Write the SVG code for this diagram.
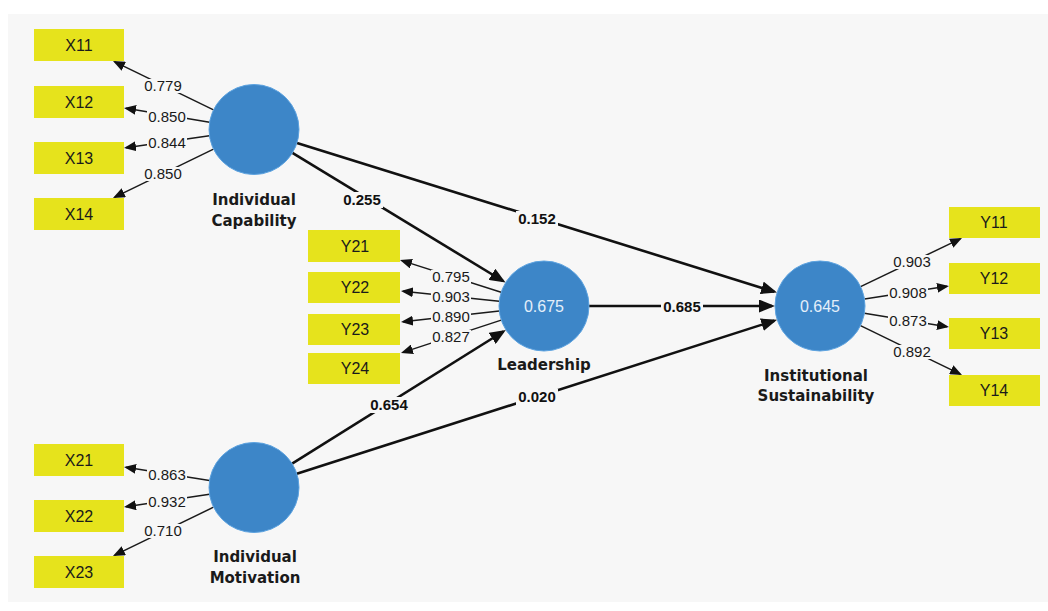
<svg xmlns="http://www.w3.org/2000/svg" width="1048" height="611" viewBox="0 0 1048 611">
<style>
.bg{fill:#f7f7f7}
.box{fill:#e6e31c}
.lv{fill:#3d86c8;stroke:#5da3e0;stroke-width:1}
.bt{font-family:"Liberation Sans",Arial,sans-serif;font-size:16px;fill:#1a1a1a;text-anchor:middle}
.nl{font-family:"DejaVu Sans",Verdana,sans-serif;font-weight:bold;font-size:15px;fill:#1a1a1a;text-anchor:middle}
.cv{font-family:"Liberation Sans",Arial,sans-serif;font-size:16px;fill:#e4effa;text-anchor:middle}
.ld{stroke:#1a1a1a;stroke-width:1.5;fill:none;marker-end:url(#ah)}
.pt{stroke:#111;stroke-width:2.6;fill:none;marker-end:url(#ahb)}
.lb{fill:#f7f7f7}
.ll{font-family:"Liberation Sans",Arial,sans-serif;font-size:15px;fill:#1a1a1a;text-anchor:middle}
.pl{font-family:"Liberation Sans",Arial,sans-serif;font-size:15px;font-weight:bold;fill:#111;text-anchor:middle}
</style>
<defs>
<marker id="ah" markerUnits="userSpaceOnUse" markerWidth="12" markerHeight="10" refX="10" refY="5" orient="auto"><path d="M0,0 L12,5 L0,10 z" fill="#111"/></marker>
<marker id="ahb" markerUnits="userSpaceOnUse" markerWidth="16" markerHeight="13" refX="13" refY="6.5" orient="auto"><path d="M0,0 L16,6.5 L0,13 z" fill="#111"/></marker>
</defs>
<rect class="bg" x="8" y="14" width="1040" height="588"/>

<g id="connectors">
<path class="ld" d="M213.5,109.8 L114.8,61.9"/>
<path class="ld" d="M209.6,122.2 L126,108.3"/>
<path class="ld" d="M209.4,135.8 L126,147.7"/>
<path class="ld" d="M213.5,149.2 L114.8,197.1"/>
<path class="ld" d="M209.5,480.5 L126,467.3"/>
<path class="ld" d="M209.5,494.2 L126,506.7"/>
<path class="ld" d="M213.5,507.2 L114.8,555.1"/>
<path class="ld" d="M501.1,292.3 L401.9,260.6"/>
<path class="ld" d="M499.2,301.3 L403,291.2"/>
<path class="ld" d="M499.3,311 L403,321.8"/>
<path class="ld" d="M501.2,320.1 L402.9,352.4"/>
<path class="ld" d="M860.6,286.6 L960.2,238.9"/>
<path class="ld" d="M864.5,299.1 L947,286.3"/>
<path class="ld" d="M864.4,313.2 L947,326.7"/>
<path class="ld" d="M860.5,325.7 L960.2,374.1"/>
<path class="pt" d="M292.4,152.9 L503,281"/>
<path class="pt" d="M297,142.9 L774.2,291.7"/>
<path class="pt" d="M589,306 L772,306"/>
<path class="pt" d="M292.1,463.6 L503.3,331.5"/>
<path class="pt" d="M296.8,473.8 L774.3,320.7"/>
<g class="lb">
<rect x="143" y="79" width="40" height="14"/>
<rect x="147" y="110" width="40" height="14"/>
<rect x="147" y="136" width="40" height="14"/>
<rect x="143" y="167" width="40" height="14"/>
<rect x="147" y="468" width="40" height="14"/>
<rect x="147" y="495" width="40" height="14"/>
<rect x="143" y="524" width="40" height="14"/>
<rect x="431" y="270" width="40" height="14"/>
<rect x="431" y="290" width="40" height="14"/>
<rect x="431" y="310" width="40" height="14"/>
<rect x="431" y="330" width="40" height="14"/>
<rect x="892" y="255" width="40" height="14"/>
<rect x="888" y="286" width="40" height="14"/>
<rect x="888" y="314" width="40" height="14"/>
<rect x="892" y="345" width="40" height="14"/>
<rect x="341" y="192" width="42" height="16"/>
<rect x="516" y="211" width="42" height="16"/>
<rect x="661" y="299" width="42" height="16"/>
<rect x="368" y="397" width="42" height="16"/>
<rect x="516" y="389" width="42" height="16"/>
</g>
<text class="ll" x="163" y="91">0.779</text>
<text class="ll" x="167" y="122">0.850</text>
<text class="ll" x="167" y="148">0.844</text>
<text class="ll" x="163" y="179">0.850</text>
<text class="ll" x="167" y="480">0.863</text>
<text class="ll" x="167" y="507">0.932</text>
<text class="ll" x="163" y="536">0.710</text>
<text class="ll" x="451" y="282">0.795</text>
<text class="ll" x="451" y="302">0.903</text>
<text class="ll" x="451" y="322">0.890</text>
<text class="ll" x="451" y="342">0.827</text>
<text class="ll" x="912" y="267">0.903</text>
<text class="ll" x="908" y="298">0.908</text>
<text class="ll" x="908" y="326">0.873</text>
<text class="ll" x="912" y="357">0.892</text>
<text class="pl" x="362" y="205">0.255</text>
<text class="pl" x="537" y="224">0.152</text>
<text class="pl" x="682" y="312">0.685</text>
<text class="pl" x="389" y="410">0.654</text>
<text class="pl" x="537" y="402">0.020</text>
</g>

<g id="X11"><rect class="box" x="34" y="29" width="90" height="32"/><text class="bt" x="79" y="51">X11</text></g>
<g id="X12"><rect class="box" x="34" y="86" width="90" height="32"/><text class="bt" x="79" y="108">X12</text></g>
<g id="X13"><rect class="box" x="34" y="142" width="90" height="32"/><text class="bt" x="79" y="164">X13</text></g>
<g id="X14"><rect class="box" x="34" y="198" width="90" height="32"/><text class="bt" x="79" y="220">X14</text></g>
<g id="X21"><rect class="box" x="34" y="444" width="90" height="32"/><text class="bt" x="79" y="466">X21</text></g>
<g id="X22"><rect class="box" x="34" y="500" width="90" height="32"/><text class="bt" x="79" y="522">X22</text></g>
<g id="X23"><rect class="box" x="34" y="556" width="90" height="32"/><text class="bt" x="79" y="578">X23</text></g>
<g id="Y21"><rect class="box" x="308" y="230" width="92" height="32"/><text class="bt" x="355" y="252">Y21</text></g>
<g id="Y22"><rect class="box" x="308" y="272" width="92" height="31"/><text class="bt" x="355" y="293">Y22</text></g>
<g id="Y23"><rect class="box" x="308" y="314" width="92" height="31"/><text class="bt" x="355" y="335">Y23</text></g>
<g id="Y24"><rect class="box" x="308" y="353" width="92" height="31"/><text class="bt" x="355" y="374">Y24</text></g>
<g id="Y11"><rect class="box" x="949" y="207" width="91" height="31"/><text class="bt" x="994" y="228">Y11</text></g>
<g id="Y12"><rect class="box" x="949" y="263" width="91" height="31"/><text class="bt" x="994" y="284">Y12</text></g>
<g id="Y13"><rect class="box" x="949" y="318" width="91" height="31"/><text class="bt" x="994" y="339">Y13</text></g>
<g id="Y14"><rect class="box" x="949" y="375" width="91" height="31"/><text class="bt" x="994" y="396">Y14</text></g>

<g id="IndividualCapability"><circle class="lv" cx="254" cy="129.5" r="45"/><text class="nl" x="254" y="205">Individual</text><text class="nl" x="254" y="226">Capability</text></g>
<g id="Leadership"><circle class="lv" cx="544" cy="306" r="45"/><text class="cv" x="544" y="312">0.675</text><text class="nl" x="544" y="370">Leadership</text></g>
<g id="InstitutionalSustainability"><circle class="lv" cx="820" cy="306" r="45"/><text class="cv" x="820" y="312">0.645</text><text class="nl" x="816" y="381">Institutional</text><text class="nl" x="816" y="401">Sustainability</text></g>
<g id="IndividualMotivation"><circle class="lv" cx="254" cy="487.5" r="45"/><text class="nl" x="255" y="562">Individual</text><text class="nl" x="255" y="583">Motivation</text></g>
</svg>
